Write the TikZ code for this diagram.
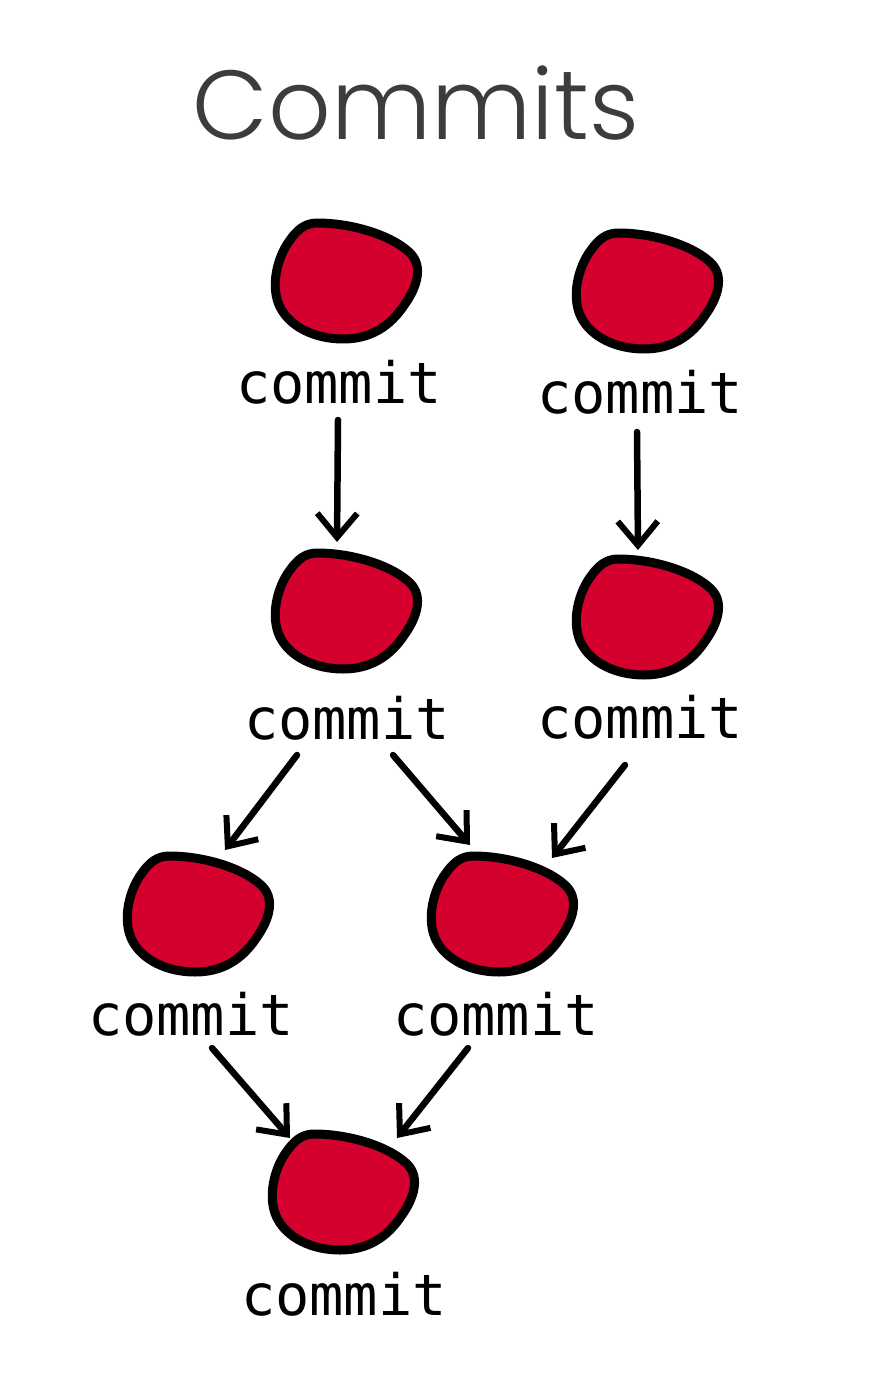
\documentclass[tikz,border=0pt]{standalone}
\usepackage{fontspec}
\usetikzlibrary{arrows.meta,calc}
\newfontfamily\labfont{DejaVu Sans Mono}
\newfontfamily\ttlfont{Poppins}[UprightFont={* Light}]
\definecolor{blobred}{HTML}{D4002D}
\definecolor{ttlgray}{HTML}{3C3C3C}
\tikzset{
  lab/.style={font=\labfont\fontsize{57}{57}\selectfont, inner sep=0pt, anchor=base, text=black},
  blobnode/.style={circle, minimum size=120pt, inner sep=0pt},
  arr/.style={line width=6.5pt, line cap=round, -{Straight Barb[length=24pt,width=40pt,line width=6pt]}},
  blob/.pic={
    \draw[line width=9pt, fill=blobred, line join=round]
      (-28,-59) .. controls (10,-59) and (50,-45) .. (66,-28)
      .. controls (78,-15) and (72,5) .. (60,22)
      .. controls (45,45) and (25,57) .. (-2,57)
      .. controls (-30,57) and (-55,45) .. (-65,25)
      .. controls (-75,5) and (-68,-25) .. (-55,-42)
      .. controls (-48,-52) and (-40,-59) .. (-28,-59) -- cycle;
  }
}
\begin{document}
\begin{tikzpicture}[x=1pt,y=-1pt]
\useasboundingbox (0,0) rectangle (882,1396);
\fill[white] (0,0) rectangle (882,1396);
\node[font=\ttlfont\fontsize{98}{98}\selectfont, text=ttlgray, inner sep=0pt, anchor=base] (title) at (416,140) {Commits};
% blobs
\path (345,282) pic {blob}; \node[blobnode] (B1) at (345,282) {};
\path (646,292) pic {blob}; \node[blobnode] (B2) at (646,292) {};
\path (345,612) pic {blob}; \node[blobnode] (B3) at (345,612) {};
\path (646,618) pic {blob}; \node[blobnode] (B4) at (646,618) {};
\path (197,915) pic {blob}; \node[blobnode] (B5) at (197,915) {};
\path (501,915) pic {blob}; \node[blobnode] (B6) at (501,915) {};
\path (342,1193) pic {blob}; \node[blobnode] (B7) at (342,1193) {};
% labels
\node[lab] (L1) at (339,403) {commit};
\node[lab] (L2) at (640,413) {commit};
\node[lab] (L3) at (347,739) {commit};
\node[lab] (L4) at (640,738) {commit};
\node[lab] (L5) at (191,1035) {commit};
\node[lab] (L6) at (496,1035) {commit};
\node[lab] (L7) at (344,1315) {commit};
% arrows
\draw[arr] ($(L1.base)+(-1,17)$) -- ($(B3.center)+(-8,-70)$);
\draw[arr] ($(L2.base)+(-3,19)$) -- ($(B4.center)+(-8,-68)$);
\draw[arr] ($(L3.base)+(-50,16)$) -- ($(B5.center)+(28,-65)$);
\draw[arr] ($(L3.base)+(46,16)$) -- ($(B6.center)+(-31,-70)$);
\draw[arr] ($(L4.base)+(-15,27)$) -- ($(B6.center)+(51,-57)$);
\draw[arr] ($(L5.base)+(21,13)$) -- ($(B7.center)+(-52,-55)$);
\draw[arr] ($(L6.base)+(-28,13)$) -- ($(B7.center)+(55,-55)$);
\end{tikzpicture}
\end{document}
